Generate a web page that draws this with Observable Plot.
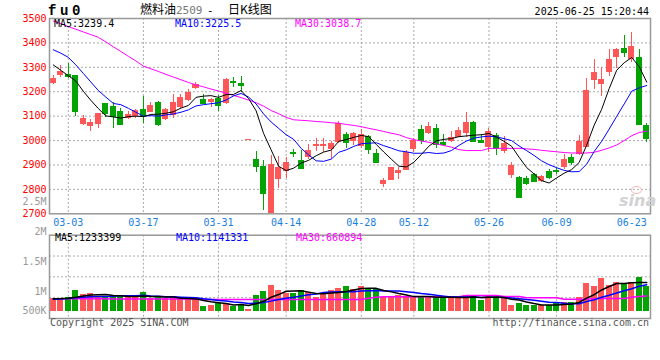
<!DOCTYPE html>
<html><head><meta charset="utf-8">
<script src="https://cdn.jsdelivr.net/npm/d3@7"></script>
<script src="https://cdn.jsdelivr.net/npm/@observablehq/plot@0.6"></script>
<style>
html,body{margin:0;padding:0;background:#fff;}
#wrap{position:relative;width:660px;height:360px;overflow:hidden;background:#fff;font-family:"DejaVu Sans Mono",monospace;font-size:10px;}
#wrap .abs{position:absolute;white-space:pre;line-height:1;}
#wrap svg{position:absolute;left:0;}
</style></head><body><div id="wrap"></div>
<script>
// ---------- data ----------
const dates = ["02-27","02-28",
"03-03","03-04","03-05","03-06","03-07","03-10","03-11","03-12","03-13","03-14",
"03-17","03-18","03-19","03-20","03-21","03-24","03-25","03-26","03-27","03-28",
"03-31","04-01","04-02","04-03","04-07","04-08","04-09","04-10","04-11",
"04-14","04-15","04-16","04-17","04-18","04-21","04-22","04-23","04-24","04-25",
"04-28","04-29","04-30","05-06","05-07","05-08","05-09",
"05-12","05-13","05-14","05-15","05-16","05-19","05-20","05-21","05-22","05-23",
"05-26","05-27","05-28","05-29","05-30","06-03","06-04","06-05","06-06",
"06-09","06-10","06-11","06-12","06-13","06-16","06-17","06-18","06-19","06-20",
"06-23","06-24","06-25"];
const open = [3239,3269,3272,3266,3071,3060,3071,3150,3139,3119,
3096,3103,3126,3120,3154,3089,3105,3141,3168,3218,
3167,3160,3173,3154,3240,3235,3003,2923,2894,2705,
2844,2877,2952,2918,2936,2981,2981,2966,2996,3025,
3000,2980,3016,2945,2823,2841,2871,2882,2969,3045,
3032,3049,2992,2999,3018,3034,3074,3000,2977,3021,
2959,2863,2847,2845,2860,2837,2873,2876,2895,2932,
2948,2977,3250,3235,3284,3345,3378,3337,3341,3061];
const high = [3266,3307,3317,3268,3102,3086,3112,3152,3157,3130,
3119,3127,3180,3154,3160,3130,3187,3187,3209,3239,
3187,3171,3184,3253,3259,3262,3003,2955,2918,2939,
2936,2932,2963,2959,2982,3007,3007,2996,3078,3031,
3034,3044,3021,2962,2846,2891,2891,2959,3010,3062,
3075,3066,3025,3038,3053,3115,3078,3023,3048,3030,
3016,2912,2853,2853,2866,2857,2881,2887,2942,2942,
3020,3253,3334,3300,3371,3379,3430,3441,3375,3071];
const low = [3228,3259,3255,3100,3062,3037,3048,3093,3051,3061,
3085,3089,3069,3116,3059,3081,3089,3130,3160,3209,
3146,3137,3119,3146,3218,3198,3003,2868,2714,2700,
2802,2844,2932,2881,2923,2955,2950,2923,2989,2969,
2980,2966,2941,2907,2809,2841,2841,2877,2953,2982,
3024,2969,2977,2991,3014,3014,2993,2989,2950,2939,
2946,2846,2761,2816,2830,2830,2841,2860,2881,2898,
2939,2973,3209,3182,3262,3294,3341,3321,3061,2993];
const close = [3255,3284,3262,3119,3089,3075,3109,3112,3098,3064,
3105,3122,3103,3143,3066,3126,3154,3177,3198,3229,
3150,3167,3143,3250,3237,3226,3003,2895,2785,2901,
2891,2911,2948,2887,2959,2985,2985,2989,3068,2994,
3030,3026,2963,2909,2836,2888,2877,2952,3000,3000,
3057,2984,2985,3013,3041,3074,2998,2993,3037,2969,
2989,2898,2768,2826,2834,2853,2847,2873,2923,2909,
2996,3205,3280,3250,3334,3371,3362,3385,3064,3007];
const ma5 = [3310,3288,3266,3244,3202,3165,3131,3101,3097,3092,
3098,3100,3098,3107,3108,3112,3118,3133,3144,3177,
3182,3184,3177,3188,3189,3205,3172,3122,3029,2962,
2895,2877,2887,2908,2919,2938,2953,2961,2997,3004,
3013,3021,3016,2984,2953,2924,2895,2892,2911,2943,
2977,2999,3005,3008,3016,3019,3022,3024,3029,3014,
2997,2977,2932,2890,2863,2836,2826,2847,2866,2881,
2910,2981,3063,3128,3213,3288,3319,3340,3303,3239.4];
const ma10 = [3372,3358,3341,3310,3275,3240,3205,3178,3152,3147,
3132,3116,3100,3102,3100,3105,3109,3116,3126,3142,
3147,3151,3155,3166,3183,3193,3178,3150,3109,3076,
3050,3024,3005,2968,2941,2917,2915,2924,2952,2962,
2976,2987,2989,2991,2979,2969,2958,2954,2948,2948,
2951,2947,2949,2959,2980,2998,3010,3015,3018,3015,
3008,3000,2978,2959,2939,2917,2901,2889,2878,2872,
2873,2903,2955,2997,3047,3099,3150,3202,3216,3225.5];
const ma30 = [3490,3479,3467,3456,3445,3434,3423,3404,3384,3365,
3345,3326,3305,3294,3283,3271,3260,3249,3238,3228,
3220,3211,3203,3194,3185,3176,3166,3155,3141,3123,
3110,3095,3085,3083,3081,3078,3076,3073,3071,3066,
3062,3057,3050,3044,3037,3030,3024,3012,3004,2998,
2993,2986,2980,2973,2963,2959,2959,2959,2968,2968,
2968,2968,2968,2966,2964,2960,2957,2954,2951,2949,
2949,2949,2952,2960,2970,2982,3000,3020,3033,3038.7];
const volume = [567000,539000,610000,879000,709000,752000,624000,652000,652000,652000,
610000,582000,794000,539000,638000,539000,539000,539000,511000,539000,
213000,255000,326000,326000,227000,312000,71000,681000,851000,1106000,
879000,780000,752000,879000,823000,582000,752000,894000,965000,1050000,
922000,1050000,950000,950000,610000,610000,681000,638000,610000,610000,
638000,539000,610000,610000,539000,681000,638000,468000,681000,610000,
567000,255000,326000,255000,255000,255000,255000,326000,369000,369000,
582000,1177000,1064000,1390000,1106000,1220000,1177000,1220000,1433000,1078000];
const volMa5 = [540000,545000,560000,600000,661000,698000,715000,723000,678000,666000,
638000,630000,658000,635000,633000,618000,610000,559000,553000,533000,
468000,411000,369000,332000,269000,289000,252000,323000,428000,604000,
718000,859000,874000,879000,823000,763000,758000,786000,803000,849000,
917000,976000,987000,984000,896000,834000,760000,698000,630000,630000,
635000,607000,601000,601000,587000,596000,616000,587000,601000,616000,
593000,516000,488000,403000,332000,269000,269000,269000,292000,315000,
380000,565000,712000,916000,1064000,1191000,1191000,1223000,1231000,1233399];
const volMa10 = [520000,530000,550000,580000,600000,620000,630000,640000,650000,664000,
668000,672000,691000,657000,650000,628000,620000,608000,594000,583000,
543000,511000,464000,443000,401000,379000,332000,346000,380000,437000,
503000,556000,599000,654000,713000,740000,809000,830000,841000,836000,
840000,867000,887000,894000,873000,875000,868000,843000,807000,763000,
735000,684000,650000,616000,609000,616000,611000,594000,601000,601000,
594000,566000,538000,502000,474000,431000,393000,379000,347000,323000,
325000,417000,491000,604000,689000,786000,878000,967000,1074000,1141331];
const volMa30 = [540000,540000,540000,540000,540000,540000,540000,540000,530000,530000,
530000,530000,530000,530000,530000,530000,530000,530000,530000,530000,
510000,510000,510000,510000,510000,510000,510000,510000,510000,510000,
510000,510000,510000,510000,510000,510000,510000,510000,510000,510000,
510000,510000,560000,600000,620000,620000,620000,620000,620000,620000,
620000,620000,620000,620000,620000,680000,680000,680000,680000,680000,
640000,640000,640000,580000,580000,580000,580000,580000,520000,520000,
520000,520000,550000,550000,550000,550000,550000,600000,640000,660894];

const priceTicks = [2700,2800,2900,3000,3100,3200,3300,3400,3500];
const priceGrid = [2800,2900,3000,3100,3200,3300,3400];
const labelDates = ["03-03","03-17","03-31","04-14","04-28","05-12","05-26","06-09","06-23"];
const gridDates = ["03-03","03-17","03-31","04-14","04-28","05-12","05-26","06-09"];
const volTicksUpper = [2500000,2000000,1500000,1000000];
const volTicksLower = [500000];
const priceLegend = ["MA5:3239.4","MA10:3225.5","MA30:3038.7"];
const volLegend = ["MA5:1233399","MA10:1141331","MA30:660894"];
const symbol = "fu0";
const titleParts = ["燃料油","2509","-","日K线图"];
const stamp = "2025-06-25 15:20:44";
const footLeft = "Copyright 2025 SINA.COM";
const footRight = "http://finance.sina.com.cn";

// ---------- build ----------
const rows = dates.map((d,i)=>({date:d,open:open[i],high:high[i],low:low[i],close:close[i],
  vol:volume[i],ma5:ma5[i],ma10:ma10[i],ma30:ma30[i],vma5:volMa5[i],vma10:volMa10[i],vma30:volMa30[i]}));
const upRows = rows.filter(r=>r.close>=r.open);
const dnRows = rows.filter(r=>r.close<r.open);
const RED="#ff5757", GREEN="#04a304";
const GRID={stroke:"#aaa",strokeOpacity:1,strokeDasharray:"2,2"};
const FONT='"DejaVu Sans Mono", monospace';
const baseStyle={fontFamily:FONT,fontSize:"10px",background:"transparent",overflow:"visible"};
const xScale={type:"band",domain:dates,padding:0,round:false};

const wrap=document.getElementById("wrap");

const candleMarks = (data,color)=>[
  Plot.ruleX(data,{x:"date",y1:"low",y2:"high",stroke:color,shapeRendering:"crispEdges"}),
  Plot.barY(data,{x:"date",y1:"open",y2:"close",fill:color,insetLeft:0.75,insetRight:0.75,shapeRendering:"crispEdges"}),
  Plot.tickY(data,{x:"date",y:"open",stroke:color,insetLeft:0.75,insetRight:0.75,shapeRendering:"crispEdges"}),
  Plot.tickY(data,{x:"date",y:"close",stroke:color,insetLeft:0.75,insetRight:0.75,shapeRendering:"crispEdges"})
];

const main = Plot.plot({
  width:660,height:230,marginTop:18,marginBottom:16.7,marginLeft:49,marginRight:10,
  style:baseStyle,
  x:xScale,
  y:{domain:[2700,3500]},
  marks:[
    Plot.gridY(priceGrid,GRID),
    Plot.gridX(gridDates,GRID),
    Plot.axisY(priceTicks,{tickSize:0,tickPadding:3,color:"#f00",label:null,tickFormat:d=>String(d)}),
    Plot.axisX(labelDates,{tickSize:0,tickPadding:5,color:"#1a7fe0",label:null}),
    ...candleMarks(upRows,RED),
    ...candleMarks(dnRows,GREEN),
    Plot.line(rows,{x:"date",y:"ma30",stroke:"#ff00ff",strokeWidth:1}),
    Plot.line(rows,{x:"date",y:"ma10",stroke:"#0000ff",strokeWidth:1}),
    Plot.line(rows,{x:"date",y:"ma5",stroke:"#000",strokeWidth:1}),
    Plot.frame({stroke:"#999",strokeWidth:1.5})
  ]
});
main.style.top="0px";
wrap.appendChild(main);

const volDomain=[-309000,3266000];
const volGrid=[1,2,3].map(i=>volDomain[0]+(volDomain[1]-volDomain[0])*i/4);
const vol = Plot.plot({
  width:660,height:92,marginTop:4.7,marginBottom:4,marginLeft:49,marginRight:10,
  style:baseStyle,
  x:{...xScale,axis:null},
  y:{domain:volDomain,axis:null},
  marks:[
    Plot.gridY(volGrid,GRID),
    Plot.gridX(gridDates,GRID),
    Plot.barY(upRows,{x:"date",y:"vol",fill:RED,insetLeft:0.75,insetRight:0.75,shapeRendering:"crispEdges"}),
    Plot.barY(dnRows,{x:"date",y:"vol",fill:GREEN,insetLeft:0.75,insetRight:0.75,shapeRendering:"crispEdges"}),
    Plot.line(rows,{x:"date",y:"vma30",stroke:"#ff00ff",strokeWidth:1.5}),
    Plot.line(rows,{x:"date",y:"vma10",stroke:"#0000ff",strokeWidth:1.5}),
    Plot.line(rows,{x:"date",y:"vma5",stroke:"#000",strokeWidth:1.5}),
    Plot.frame({stroke:"#999",strokeWidth:1.5})
  ]
});
vol.style.top="230px";
wrap.appendChild(vol);

const fmtVol = d => d>=1e6 ? (d/1e6)+"M" : (d/1e3)+"K";
// volume tick labels (Sina places them on their own spacing)
const volAxisUpper = Plot.plot({
  width:660,height:135,marginTop:0,marginBottom:0,marginLeft:49,marginRight:10,
  style:baseStyle,
  y:{domain:[1000000,2500000],range:[101,11]},
  marks:[Plot.axisY(volTicksUpper,{tickSize:0,tickPadding:3,color:"#999",tickFormat:fmtVol,label:null})]
});
volAxisUpper.style.top="190px";
wrap.appendChild(volAxisUpper);
const volAxisLower = Plot.plot({
  width:660,height:135,marginTop:0,marginBottom:0,marginLeft:49,marginRight:10,
  style:baseStyle,
  y:{domain:[400000,600000],range:[130,110]},
  marks:[Plot.axisY(volTicksLower,{tickSize:0,tickPadding:3,color:"#999",tickFormat:fmtVol,label:null})]
});
volAxisLower.style.top="190px";
wrap.appendChild(volAxisLower);

function addText(txt,pos,style){
  const s=document.createElement("div");
  s.className="abs"; s.textContent=txt;
  for(const k in pos) s.style[k]=pos[k]+"px";
  Object.assign(s.style,style||{});
  wrap.appendChild(s); return s;
}
// header
addText(symbol,{left:48,top:4},{fontFamily:'"Liberation Mono", monospace',fontWeight:"bold",fontSize:"14px",letterSpacing:"3.6px",color:"#000"});
const cjk='"Noto Sans CJK SC", sans-serif';
addText(titleParts[0],{left:140,top:3},{fontFamily:cjk,fontSize:"12px",color:"#000"});
addText(titleParts[1],{left:176,top:4.7},{fontSize:"11px",color:"#777"});
addText(titleParts[2],{left:207,top:4.5},{fontSize:"11px",color:"#000"});
addText(titleParts[3],{left:228,top:3},{fontFamily:cjk,fontSize:"12px",color:"#000"});
addText(stamp,{right:11,top:7.2},{color:"#000"});
// legends
const legColors=["#000","#0000ff","#ff00ff"];
const legX=[54,175,295];
priceLegend.forEach((t,i)=>addText(t,{left:legX[i],top:18.8},{color:legColors[i]}));
volLegend.forEach((t,i)=>addText(t,{left:legX[i]+1,top:232.8},{color:legColors[i]}));
// footer
addText(footLeft,{left:50,top:318.3},{color:"#555"});
addText(footRight,{right:11,top:318.3},{color:"#555"});
// watermark
addText("sina",{left:619,top:192.5},{fontFamily:'"DejaVu Sans", sans-serif',fontStyle:"italic",fontWeight:"bold",fontSize:"16px",color:"#d2d2d2"});
const eye=document.createElement("div");
Object.assign(eye.style,{position:"absolute",left:"631px",top:"186px",width:"9px",height:"6px",border:"1.5px solid #f2b8b8",borderRadius:"50%"});
wrap.appendChild(eye);
</script></body></html>
